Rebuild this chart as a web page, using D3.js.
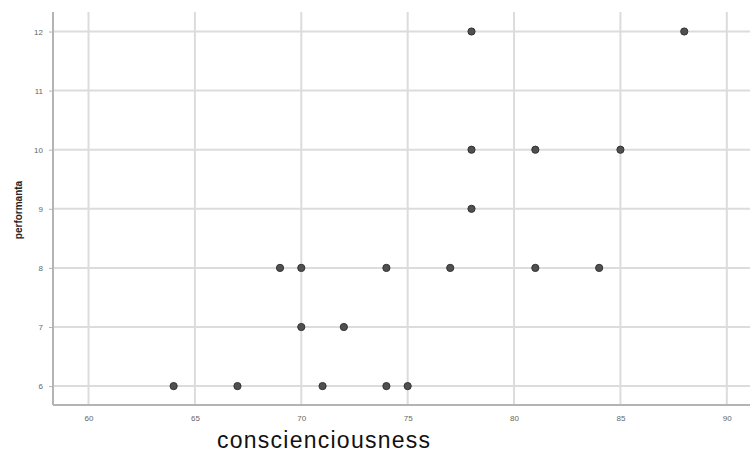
<!DOCTYPE html>
<html><head><meta charset="utf-8">
<script src="https://cdn.jsdelivr.net/npm/d3@7"></script>
<style>body{margin:0;background:#fff}svg{display:block}</style>
</head><body>
<script>
const xValues = [78, 88, 78, 81, 85, 78, 69, 70, 74, 77, 81, 84, 70, 72, 64, 67, 71, 74, 75];
const yValues = [12, 12, 10, 10, 10, 9, 8, 8, 8, 8, 8, 8, 7, 7, 6, 6, 6, 6, 6];
const xTicks = [60, 65, 70, 75, 80, 85, 90];
const yTicks = [6, 7, 8, 9, 10, 11, 12];
const xTitle = "conscienciousness";
const yTitle = "performanta";

(function () {
const W = 751, H = 454;
const svg = d3.select("body").append("svg").attr("width", W).attr("height", H);
const pL = 53, pR = 750, pT = 12, pB = 405;
const x = d3.scaleLinear().domain([58.33, 91.09]).range([pL, pR]);
const y = d3.scaleLinear().domain([5.68, 12.33]).range([pB, pT]);

// grid
svg.append("g").selectAll("line").data(xTicks).join("line")
  .attr("x1", d => x(d)).attr("x2", d => x(d)).attr("y1", pT).attr("y2", pB)
  .attr("stroke", "#dcdcdc").attr("stroke-width", 2);
svg.append("g").selectAll("line").data(yTicks).join("line")
  .attr("x1", pL).attr("x2", pR).attr("y1", d => y(d)).attr("y2", d => y(d))
  .attr("stroke", "#dcdcdc").attr("stroke-width", 2);

// axes
const xAxis = svg.append("g").attr("transform", `translate(0,${pB})`)
  .call(d3.axisBottom(x).tickValues(xTicks).tickFormat(d3.format("d")).tickSize(0).tickPadding(10));
const yAxis = svg.append("g").attr("transform", `translate(${pL},0)`)
  .call(d3.axisLeft(y).tickValues(yTicks).tickFormat(d3.format("d")).tickSize(4).tickPadding(6));
[xAxis, yAxis].forEach(g => {
  g.select(".domain").attr("stroke", "#b4b4b4").attr("stroke-width", 2);
  g.selectAll(".tick line").attr("stroke", "#b4b4b4");
  g.selectAll(".tick text").attr("fill", "#666").attr("font-family", "Liberation Sans, Arial, sans-serif").attr("font-size", 8);
});
xAxis.select(".domain").attr("d", `M${pL},0H${pR}`);
yAxis.select(".domain").attr("d", `M0,${pT}V${pB}`);

// points
svg.append("g").selectAll("circle").data(xValues.map((v, i) => [v, yValues[i]])).join("circle")
  .attr("cx", d => x(d[0])).attr("cy", d => y(d[1])).attr("r", 3.6)
  .attr("fill", "#505050").attr("stroke", "#333").attr("stroke-width", 1);

// titles
svg.append("text").attr("x", 217).attr("y", 448)
  .attr("textLength", 213).attr("lengthAdjust", "spacing")
  .attr("font-family", "Liberation Sans, Arial, sans-serif").attr("font-size", 23)
  .attr("fill", "#111").text(xTitle);
svg.append("text").attr("transform", "translate(22,210) rotate(-90)").attr("text-anchor", "middle")
  .attr("font-family", "Liberation Sans, Arial, sans-serif").attr("font-size", 10).attr("font-weight", "bold")
  .attr("fill", "#222").text(yTitle);
})();
</script>
</body></html>
